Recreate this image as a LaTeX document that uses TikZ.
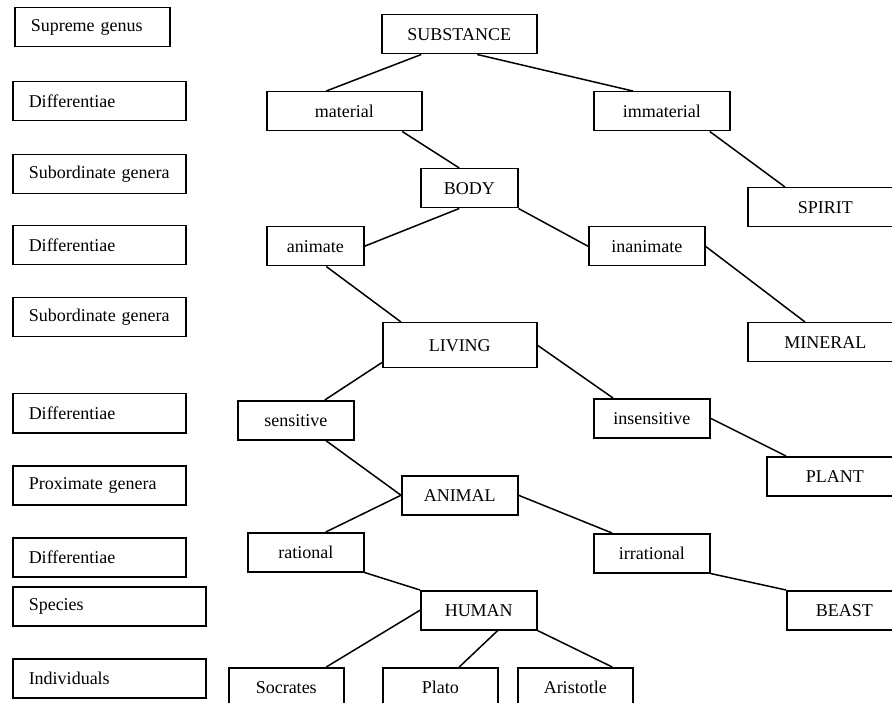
\documentclass[tikz,border=0pt]{standalone}
\usepackage{fontspec}
\setmainfont{Liberation Serif}
\usepackage{tikz}
\usetikzlibrary{positioning}

\tikzset{
  levelbox/.style={draw, line width=1.5pt, anchor=north west, minimum height=39pt, inner xsep=16pt, align=left, font=\fontsize{18}{20}\selectfont},
  termbox/.style={draw, line width=1.5pt, anchor=north west, minimum height=39pt, font=\fontsize{18}{20}\selectfont},
  branch/.style={line width=1.5pt},
}

\begin{document}
\begin{tikzpicture}[x=1pt, y=-1pt]
 \useasboundingbox (0,0) rectangle (892,703);
 \clip (0,0) rectangle (892,703);
 \fill[white] (0,0) rectangle (892,703);
 % level labels on the left
 \node[levelbox, text width=123pt] (lsup) at (14,7) {Supreme genus};
 \node[levelbox, text width=141pt] (ldif1) at (12,81) {Differentiae};
 \node[levelbox, text width=141pt] (lsub1) at (12,154) {Subordinate genera};
 \node[levelbox, text width=141pt] (ldif2) at (12,225) {Differentiae};
 \node[levelbox, text width=141pt] (lsub2) at (12,297) {Subordinate genera};
 \node[levelbox, text width=141pt] (ldif3) at (12,393) {Differentiae};
 \node[levelbox, text width=141pt] (lprox) at (12,465) {Proximate genera};
 \node[levelbox, text width=141pt] (ldif4) at (12,537) {Differentiae};
 \node[levelbox, text width=161pt] (lspec) at (12,586) {Species};
 \node[levelbox, text width=161pt] (lind) at (12,658) {Individuals};
 % the tree
 \node[termbox, minimum width=155pt] (subst) at (381,14) {SUBSTANCE};
 \node[termbox, minimum width=155pt] (mat) at (266,91) {material};
 \node[termbox, minimum width=136pt] (immat) at (593,91) {immaterial};
 \node[termbox, minimum width=97pt] (body) at (420,168) {BODY};
 \node[termbox, minimum width=155pt] (spirit) at (747,187) {SPIRIT};
 \node[termbox, minimum width=97pt] (anim) at (266,226) {animate};
 \node[termbox, minimum width=116pt] (inanim) at (588,226) {inanimate};
 \node[termbox, minimum width=154pt, minimum height=45pt] (living) at (382,322) {LIVING};
 \node[termbox, minimum width=155pt] (mineral) at (747,322) {MINERAL};
 \node[termbox, minimum width=116pt] (sens) at (237,400) {sensitive};
 \node[termbox, minimum width=116pt] (insens) at (593,398) {insensitive};
 \node[termbox, minimum width=136pt] (plant) at (766,456) {PLANT};
 \node[termbox, minimum width=116pt] (animal) at (401,475) {ANIMAL};
 \node[termbox, minimum width=116pt] (rat) at (247,532) {rational};
 \node[termbox, minimum width=116pt] (irrat) at (593,533) {irrational};
 \node[termbox, minimum width=116pt] (human) at (420,590) {HUMAN};
 \node[termbox, minimum width=115pt] (beast) at (786,590) {BEAST};
 \node[termbox, minimum width=115pt] (socr) at (228,667) {Socrates};
 \node[termbox, minimum width=115pt] (plato) at (382,667) {Plato};
 \node[termbox, minimum width=115pt] (arist) at (517,667) {Aristotle};
 % branches
 \draw[branch] ([xshift=-38pt]subst.south) -- ([xshift=-18pt]mat.north);
 \draw[branch] ([xshift=18pt]subst.south) -- ([xshift=-29pt]immat.north);
 \draw[branch] ([xshift=58pt]mat.south) -- ([xshift=-10pt]body.north);
 \draw[branch] ([xshift=48pt]immat.south) -- ([xshift=38pt]spirit.north west);
 \draw[branch] ([xshift=-10pt]body.south) -- (anim.east);
 \draw[branch] (body.south east) -- (inanim.west);
 \draw[branch] (inanim.east) -- ([xshift=58pt]mineral.north west);
 \draw[branch] ([xshift=11pt]anim.south) -- ([xshift=19pt]living.north west);
 \draw[branch] ([yshift=6pt]living.south west) -- ([xshift=29pt]sens.north);
 \draw[branch] (living.east) -- ([xshift=20pt]insens.north west);
 \draw[branch] (insens.east) -- ([xshift=20pt]plant.north west);
 \draw[branch] ([xshift=30pt]sens.south) -- (animal.west);
 \draw[branch] (animal.west) -- ([xshift=20pt]rat.north);
 \draw[branch] (animal.east) -- ([xshift=19pt]irrat.north west);
 \draw[branch] (irrat.south east) -- (beast.north west);
 \draw[branch] (rat.south east) -- (human.north west);
 \draw[branch] (human.west) -- ([xshift=40pt]socr.north);
 \draw[branch] ([xshift=19pt]human.south) -- ([xshift=19pt]plato.north);
 \draw[branch] (human.south east) -- ([xshift=37pt]arist.north);
\end{tikzpicture}
\end{document}
